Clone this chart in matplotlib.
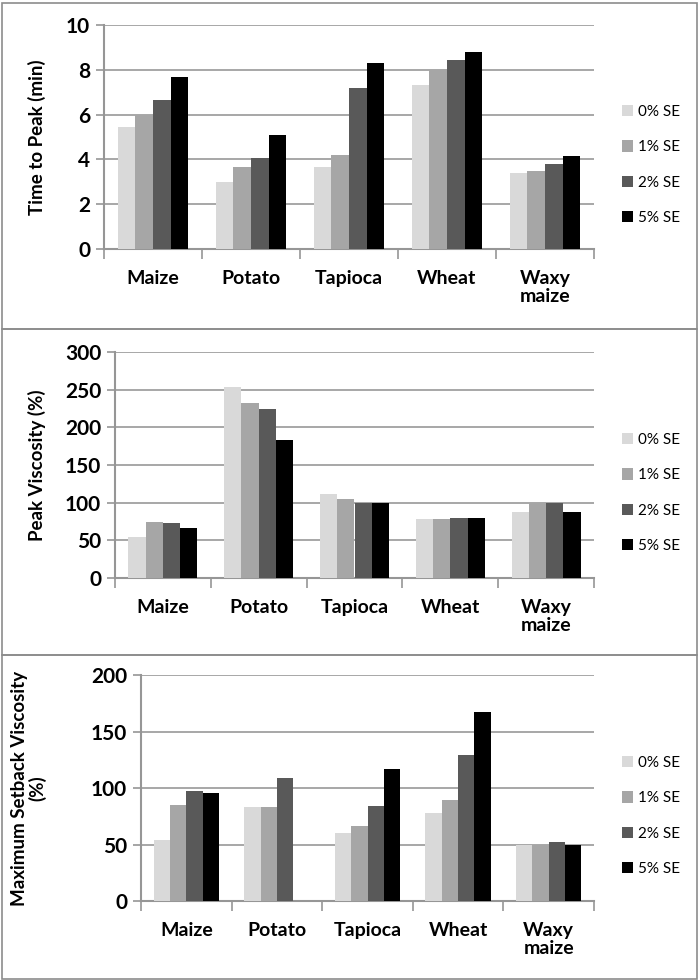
import numpy as np
import matplotlib.pyplot as plt
from matplotlib.patches import Rectangle

categories = ["Maize", "Potato", "Tapioca", "Wheat", "Waxy\nmaize"]
series = ["0% SE", "1% SE", "2% SE", "5% SE"]
colors = ["#d9d9d9", "#a6a6a6", "#595959", "#000000"]

# time to peak (min)
ttp_0 = [5.45, 3.0, 3.65, 7.3, 3.4]
ttp_1 = [6.0, 3.65, 4.2, 8.0, 3.5]
ttp_2 = [6.65, 4.05, 7.2, 8.45, 3.8]
ttp_5 = [7.7, 5.1, 8.3, 8.8, 4.15]

# peak viscosity (%)
pv_0 = [55, 253, 112, 78, 88]
pv_1 = [75, 232, 105, 78, 100]
pv_2 = [73, 225, 99, 80, 100]
pv_5 = [66, 183, 100, 80, 88]

# maximum setback viscosity (%) - no 5% bar for potato
sb_0 = [54, 83, 60, 78, 50]
sb_1 = [85, 83, 66, 89, 50]
sb_2 = [97, 109, 84, 129, 52]
sb_5 = [96, np.nan, 117, 167, 50]

W, H = 698, 980
fig = plt.figure(figsize=(W / 100, H / 100), dpi=100)
plt.rcParams['font.family'] = ['Lato', 'DejaVu Sans']

panels = [
    # (data, ylim, yticks, ylabel, left, top, bottom, box_top, box_bottom)
    ([ttp_0, ttp_1, ttp_2, ttp_5], 10, [0, 2, 4, 6, 8, 10], "Time to Peak (min)", 104, 25, 249, 3, 329),
    ([pv_0, pv_1, pv_2, pv_5], 300, [0, 50, 100, 150, 200, 250, 300], "Peak Viscosity (%)", 115, 352, 578, 329, 655),
    ([sb_0, sb_1, sb_2, sb_5], 200, [0, 50, 100, 150, 200], "Maximum Setback Viscosity\n(%)", 141, 675, 901, 655, 979),
]

x = np.arange(len(categories))
bw = 0.18

for data, ymax, yt, ylab, left, top, bottom, btop, bbot in panels:
    fig.patches.append(Rectangle((2 / W, 1 - bbot / H), 695 / W, (bbot - btop) / H,
                                 transform=fig.transFigure, fill=False,
                                 edgecolor="#8c8c8c", linewidth=1.2))
    ax = fig.add_axes([left / W, 1 - bottom / H, (594 - left) / W, (bottom - top) / H])
    for i, vals in enumerate(data):
        ax.bar(x + (i - 1.5) * bw, vals, bw, color=colors[i], label=series[i], zorder=3)
    ax.set_xlim(-0.5, len(categories) - 0.5)
    ax.set_ylim(0, ymax)
    ax.set_yticks(yt)
    ax.yaxis.grid(True, color="#a0a0a0", linewidth=1.3, zorder=0)
    for s in ["top", "right"]:
        ax.spines[s].set_visible(False)
    for s in ["left", "bottom"]:
        ax.spines[s].set_color("#969696")
        ax.spines[s].set_linewidth(1.5)
    ax.set_xticks(x)
    ax.set_xticklabels(categories, fontsize=14, fontweight="bold", linespacing=1.05, va="top")
    ax.tick_params(axis="x", length=0, pad=15)
    ax.set_xticks(np.arange(-0.5, len(categories), 1), minor=True)
    ax.tick_params(axis="x", which="minor", length=7, width=1.2, color="#969696")
    ax.tick_params(axis="y", length=6, width=1.2, color="#969696", labelsize=15, pad=4)
    for lbl in ax.get_yticklabels():
        lbl.set_fontweight("bold")
    ax.set_ylabel(ylab, fontsize=13.5, fontweight="bold", linespacing=1.0)
    ax.yaxis.set_label_coords((46 - left) / (594 - left), 0.5)
    ax.legend(loc="center left", bbox_to_anchor=(622 / W, 1 - ((top + bottom) / 2 + 28) / H),
              bbox_transform=fig.transFigure, frameon=False, fontsize=11,
              handlelength=0.75, handleheight=0.75, handletextpad=0.3, labelspacing=1.4,
              borderpad=0, borderaxespad=0)

fig.savefig("out.png", dpi=100)
